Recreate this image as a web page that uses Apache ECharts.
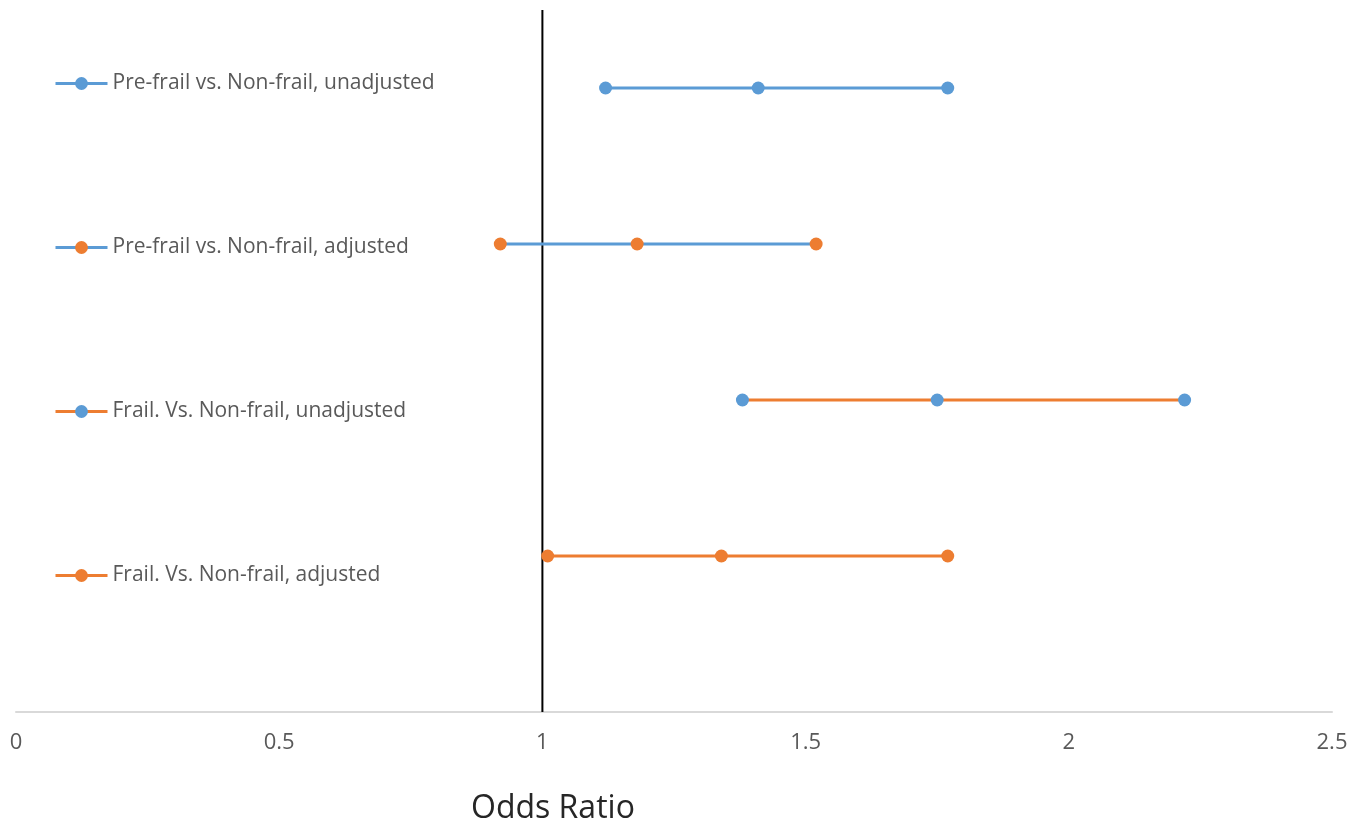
<!DOCTYPE html>
<html>
<head>
<meta charset="utf-8">
<title>Odds Ratio</title>
<script src="https://cdn.jsdelivr.net/npm/echarts@6/dist/echarts.min.js"></script>
<style>
  html, body { margin: 0; padding: 0; background: #fff; }
  #chart { width: 1364px; height: 825px; }
</style>
</head>
<body>
<div id="chart"></div>
<script>
// rows, top to bottom
var categories = [
  'Pre-frail vs. Non-frail, unadjusted',
  'Pre-frail vs. Non-frail, adjusted',
  'Frail. Vs. Non-frail, unadjusted',
  'Frail. Vs. Non-frail, adjusted'
]
var rowPos = [4, 3, 2, 1]
var lower = [1.12, 0.92, 1.38, 1.01]
var estimate = [1.41, 1.18, 1.75, 1.34]
var upper = [1.77, 1.52, 2.22, 1.77]
var refLine = [[1, 0], [1, 4.5]]

var BLUE = '#5B9BD5'
var ORANGE = '#ED7D31'
// line colour / dot colour per row (as in the original sheet)
var lineColors = [BLUE, BLUE, ORANGE, ORANGE]
var dotColors = [BLUE, ORANGE, BLUE, ORANGE]

var chart = echarts.init(document.getElementById('chart'))

var series = categories.map(function(name, i) {
  return {
    name: name,
    type: 'line',
    data: [[lower[i], rowPos[i]], [estimate[i], rowPos[i]], [upper[i], rowPos[i]]],
    symbol: 'circle',
    symbolSize: 13,
    lineStyle: { color: lineColors[i], width: 3 },
    itemStyle: { color: dotColors[i] },
    animation: false,
    z: 3
  }
})
series.push({
  name: 'ref',
  type: 'line',
  data: refLine,
  symbol: 'none',
  silent: true,
  lineStyle: { color: '#000', width: 2 },
  animation: false,
  z: 2
})

chart.setOption({
  backgroundColor: '#fff',
  textStyle: { fontFamily: 'Open Sans' },
  grid: { left: 16, right: 32, top: 10, bottom: 113 },
  title: {
    text: 'Odds Ratio',
    left: 466,
    top: 788,
    textStyle: { fontSize: 32, fontWeight: 'normal', color: '#262626', fontFamily: 'Open Sans' }
  },
  legend: {
    data: categories,
    orient: 'vertical',
    left: 49,
    top: 68,
    itemWidth: 52,
    itemHeight: 16,
    itemGap: 143,
    selectedMode: false,
    lineStyle: { width: 3 },
    textStyle: { fontSize: 21, color: '#595959', fontFamily: 'Open Sans' }
  },
  xAxis: {
    type: 'value',
    min: 0,
    max: 2.5,
    interval: 0.5,
    axisLine: { show: true, lineStyle: { color: '#d9d9d9', width: 2 } },
    axisTick: { show: false },
    splitLine: { show: false },
    axisLabel: { fontSize: 22, color: '#595959', margin: 20 }
  },
  yAxis: {
    type: 'value',
    min: 0,
    max: 4.5,
    show: false
  },
  series: series
})
</script>
</body>
</html>
